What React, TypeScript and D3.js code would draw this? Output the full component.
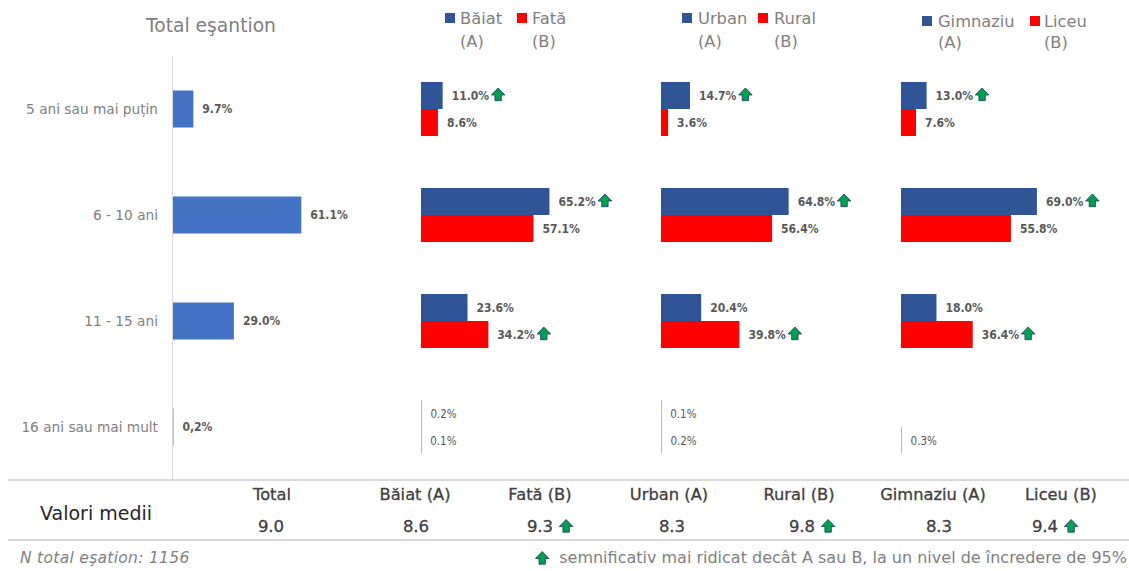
import * as d3 from "d3";

// age groups (rows)
const categories = ["5 ani sau mai puțin", "6 - 10 ani", "11 - 15 ani", "16 ani sau mai mult"];

// total sample
const totalValues = [9.7, 61.1, 29.0, 0.2];
const totalLabels = ["9.7%", "61.1%", "29.0%", "0,2%"];

// split panels: A = blue, B = red
const groupNames = [
  ["Băiat", "Fată"],
  ["Urban", "Rural"],
  ["Gimnaziu", "Liceu"],
];
const valuesA = [
  [11.0, 65.2, 23.6, 0.2],
  [14.7, 64.8, 20.4, 0.1],
  [13.0, 69.0, 18.0, 0],
];
const valuesB = [
  [8.6, 57.1, 34.2, 0.1],
  [3.6, 56.4, 39.8, 0.2],
  [7.6, 55.8, 36.4, 0.3],
];
const sigA = [
  [true, true, false, false],
  [true, true, false, false],
  [true, true, false, false],
];
const sigB = [
  [false, false, true, false],
  [false, false, true, false],
  [false, false, true, false],
];

// mean values table
const meanHeaders = ["Total", "Băiat (A)", "Fată (B)", "Urban (A)", "Rural (B)", "Gimnaziu  (A)", "Liceu (B)"];
const meanValues = [9.0, 8.6, 9.3, 8.3, 9.8, 8.3, 9.4];
const meanSig = [false, false, true, false, true, false, true];

const W = 1129;
const H = 571;
const BLUE = "#2F5597";
const RED = "#FF0000";
const TOTAL_BLUE = "#4472C4";
const GRID = "#d9d9d9";
const LABEL = "#595959";
const SOFT = "#7f7f7f";

const SANS = "'DejaVu Sans', sans-serif";
const COND = "'DejaVu Sans Condensed', 'DejaVu Sans', sans-serif";
const VALUE_SIZE = 12;
const VALUE_FONT = `bold ${VALUE_SIZE}px 'DejaVu Sans Condensed', 'DejaVu Sans'`;

const panelX = [421, 661, 901];
const headerX = [272, 415, 540, 669, 799, 933, 1061];
const valueX = [271, 416, 540, 672, 802, 939, 1045];
const legendPos = [
  { sqA: 445, txA: 460, sqB: 517, txB: 532, y: 0 },
  { sqA: 682, txA: 698, sqB: 758, txB: 774, y: 0 },
  { sqA: 922, txA: 938, sqB: 1030, txB: 1044, y: 3 },
];

let ctx: CanvasRenderingContext2D | null = null;
function textWidth(t: string, font: string) {
  if (!ctx) ctx = document.createElement("canvas").getContext("2d");
  if (!ctx) return t.length * 6;
  ctx.font = font;
  return ctx.measureText(t).width;
}

const Arrow = ({ x, y }: { x: number; y: number }) => (
  <path
    transform={`translate(${x},${y})`}
    d="M0,-6.5 L6.8,0.5 L3.2,0.5 L3.2,6.2 L-3.2,6.2 L-3.2,0.5 L-6.8,0.5 Z"
    fill="#00A050"
    stroke="#1F3864"
    strokeWidth={0.8}
    strokeLinejoin="round"
  />
);

const fmt = (v: number) => v.toFixed(1) + "%";

export default function App() {
  const y = d3.scalePoint<string>().domain(categories).range([109, 427]);
  const xTotal = d3.scaleLinear().domain([0, 100]).range([173, 383]);
  const totalH = 37;
  const barH = 27;

  const footText = "semnificativ mai ridicat decât A sau B, la un nivel de încredere de 95%";
  const footW = textWidth(footText, "16px 'DejaVu Sans'");

  return (
    <svg width={W} height={H} style={{ position: "absolute", left: 0, top: 0 }} fontFamily={SANS}>
      <rect width={W} height={H} fill="#fff" />

      {/* total sample panel */}
      <text x={211} y={32} textAnchor="middle" fontSize={18.7} fill={SOFT}>
        Total eşantion
      </text>
      <line x1={172.5} x2={172.5} y1={56} y2={480} stroke={GRID} />
      {categories.map((c, i) => {
        const cy = y(c) as number;
        const x1 = xTotal(totalValues[i]);
        return (
          <g key={c}>
            <text x={158} y={cy} dy="0.35em" textAnchor="end" fontSize={13.7} fill={SOFT}>
              {c}
            </text>
            <rect x={xTotal(0)} y={cy - totalH / 2} width={x1 - xTotal(0)} height={totalH} fill={TOTAL_BLUE} />
            <text x={x1 + 9} y={cy} dy="0.35em" fontFamily={COND} fontWeight="bold" fontSize={VALUE_SIZE} fill={LABEL}>
              {totalLabels[i]}
            </text>
          </g>
        );
      })}

      {/* split panels */}
      {groupNames.map((names, g) => {
        const x = d3.scaleLinear().domain([0, 100]).range([panelX[g], panelX[g] + 197]);
        const lg = legendPos[g];
        return (
          <g key={names[0]}>
            <rect x={lg.sqA} y={13 + lg.y} width={10} height={10} fill={BLUE} />
            <text x={lg.txA} y={24 + lg.y} fontSize={16.3} fill={SOFT}>{names[0]}</text>
            <text x={lg.txA} y={47 + lg.y * 0.4} fontSize={16.3} fill={SOFT}>(A)</text>
            <rect x={lg.sqB} y={13 + lg.y} width={10} height={10} fill={RED} />
            <text x={lg.txB} y={24 + lg.y} fontSize={16.3} fill={SOFT}>{names[1]}</text>
            <text x={lg.txB} y={47 + lg.y * 0.4} fontSize={16.3} fill={SOFT}>(B)</text>
            {categories.map((c, i) => {
              const cy = y(c) as number;
              const small = i === 3;
              const series = [
                { v: valuesA[g][i], sig: sigA[g][i], color: BLUE, top: cy - barH },
                { v: valuesB[g][i], sig: sigB[g][i], color: RED, top: cy },
              ];
              return (
                <g key={c}>
                  {series.map((s, k) => {
                    if (s.v <= 0) return null;
                    const x1 = x(s.v);
                    const lbl = fmt(s.v);
                    const lx = x1 + 9;
                    const w = textWidth(lbl, VALUE_FONT);
                    const bw = x1 - x(0);
                    return (
                      <g key={k}>
                        <rect
                          x={x(0)}
                          y={s.top}
                          width={Math.max(bw, 1)}
                          height={barH}
                          fill={s.color}
                          opacity={bw < 1 ? 0.4 : 1}
                        />
                        <text
                          x={lx}
                          y={s.top + barH / 2}
                          dy="0.35em"
                          fontFamily={COND}
                          fontWeight={small ? "normal" : "bold"}
                          fontSize={small ? 11.5 : VALUE_SIZE}
                          fill={LABEL}
                        >
                          {lbl}
                        </text>
                        {s.sig && <Arrow x={lx + w + 9} y={s.top + barH / 2 - 1} />}
                      </g>
                    );
                  })}
                </g>
              );
            })}
          </g>
        );
      })}

      {/* mean values table */}
      <line x1={8} x2={W} y1={480} y2={480} stroke={GRID} strokeWidth={2} />
      <line x1={8} x2={W} y1={540} y2={540} stroke={GRID} strokeWidth={2} />
      <text x={40} y={520} fontSize={19} fill="#262626">Valori medii</text>
      {meanHeaders.map((h, i) => (
        <text key={h} x={headerX[i]} y={500} textAnchor="middle" fontSize={16.3} fill="#404040" stroke="#404040" strokeWidth={0.3}>
          {h}
        </text>
      ))}
      {meanValues.map((v, i) => {
        const t = v.toFixed(1);
        const w = textWidth(t, "16.5px 'DejaVu Sans'");
        return (
          <g key={i}>
            <text x={valueX[i]} y={532} textAnchor="middle" fontSize={16.5} fill="#404040" stroke="#404040" strokeWidth={0.3}>
              {t}
            </text>
            {meanSig[i] && <Arrow x={valueX[i] + w / 2 + 13} y={526} />}
          </g>
        );
      })}

      {/* footer */}
      <text x={20} y={563} fontSize={15.5} fontStyle="italic" letterSpacing={0.3} fill={SOFT}>
        N total eşation: 1156
      </text>
      <Arrow x={W - 2 - footW - 17} y={558} />
      <text x={W - 2} y={563} textAnchor="end" fontSize={16} fill={SOFT}>
        {footText}
      </text>
    </svg>
  );
}
